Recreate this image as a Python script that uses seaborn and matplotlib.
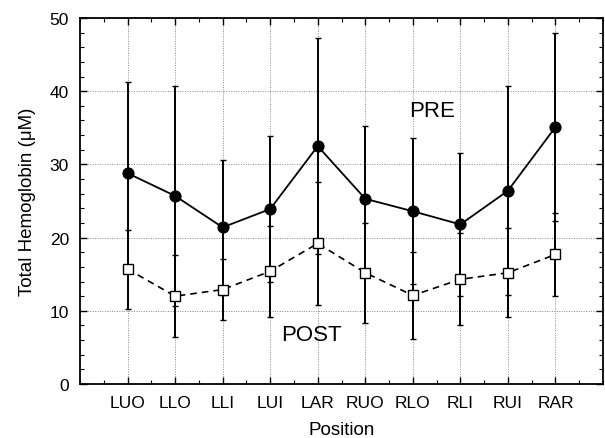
import matplotlib
matplotlib.use("Agg")
import matplotlib.pyplot as plt
import seaborn as sns
import numpy as np
import pandas as pd
from matplotlib.ticker import MultipleLocator

positions = ["LUO", "LLO", "LLI", "LUI", "LAR", "RUO", "RLO", "RLI", "RUI", "RAR"]
pre_mean = [28.8, 25.7, 21.4, 23.9, 32.5, 25.3, 23.6, 21.8, 26.4, 35.1]
pre_err = [12.5, 15.0, 9.2, 10.0, 14.8, 10.0, 10.0, 9.8, 14.3, 12.9]
post_mean = [15.7, 12.0, 12.9, 15.4, 19.2, 15.2, 12.1, 14.3, 15.2, 17.7]
post_err = [5.4, 5.6, 4.2, 6.2, 8.4, 6.8, 6.0, 6.3, 6.1, 5.7]

sns.set_style("ticks")
plt.rcParams['font.family'] = ['Liberation Sans', 'DejaVu Sans']
plt.rcParams['text.color'] = 'black'
plt.rcParams['axes.labelcolor'] = 'black'
plt.rcParams['xtick.color'] = 'black'
plt.rcParams['ytick.color'] = 'black'

xpos = np.arange(1, len(positions) + 1)
df = pd.DataFrame({"x": np.concatenate([xpos, xpos]),
                   "y": pre_mean + post_mean,
                   "grp": ["PRE"] * 10 + ["POST"] * 10})

fig = plt.figure(figsize=(6.05, 4.39), dpi=100)
ax = fig.add_axes([80 / 605, 1 - 385 / 439, 523 / 605, 366 / 439])

ax.errorbar(xpos, pre_mean, yerr=pre_err, fmt="none", ecolor="black",
            elinewidth=1.4, capsize=2, capthick=1, zorder=2)
ax.errorbar(xpos, post_mean, yerr=post_err, fmt="none", ecolor="black",
            elinewidth=1.4, capsize=2, capthick=1, zorder=2)

sns.lineplot(data=df[df.grp == "PRE"], x="x", y="y", ax=ax, color="black",
             linewidth=1.3, marker="o", markersize=8, markerfacecolor="black",
             markeredgecolor="black", zorder=3)
sns.lineplot(data=df[df.grp == "POST"], x="x", y="y", ax=ax, color="black",
             linewidth=1.2, linestyle=(0, (4, 3)), marker="s", markersize=7.5,
             markerfacecolor="white", markeredgecolor="black",
             markeredgewidth=1.0, zorder=3)

ax.set_xlim(0, 11)
ax.set_ylim(0, 50)
ax.set_xticks(xpos)
ax.set_xticklabels(positions)
ax.xaxis.set_minor_locator(MultipleLocator(0.5))
ax.set_yticks([0, 10, 20, 30, 40, 50])
ax.yaxis.set_minor_locator(MultipleLocator(2))
ax.tick_params(axis="both", which="major", direction="in", length=5, width=1,
               top=True, right=True, labelsize=12.5, pad=8)
ax.tick_params(axis="both", which="minor", direction="in", length=3, width=0.8,
               top=True, right=True)
ax.grid(True, which="major", color="#888888", linestyle=(0, (1, 1.5)), linewidth=0.7)
for s in ax.spines.values():
    s.set_linewidth(1.3)
    s.set_color("black")

ax.set_xlabel("Position", fontsize=13.5, labelpad=8)
ax.set_ylabel("Total Hemoglobin (\u03bcM)", fontsize=13.5, labelpad=10)

ax.text(7.4, 37.3, "PRE", fontsize=16, ha="center", va="center")
ax.text(4.87, 6.7, "POST", fontsize=16, ha="center", va="center")

if ax.get_legend() is not None:
    ax.get_legend().remove()

fig.savefig("out.png", dpi=100)
